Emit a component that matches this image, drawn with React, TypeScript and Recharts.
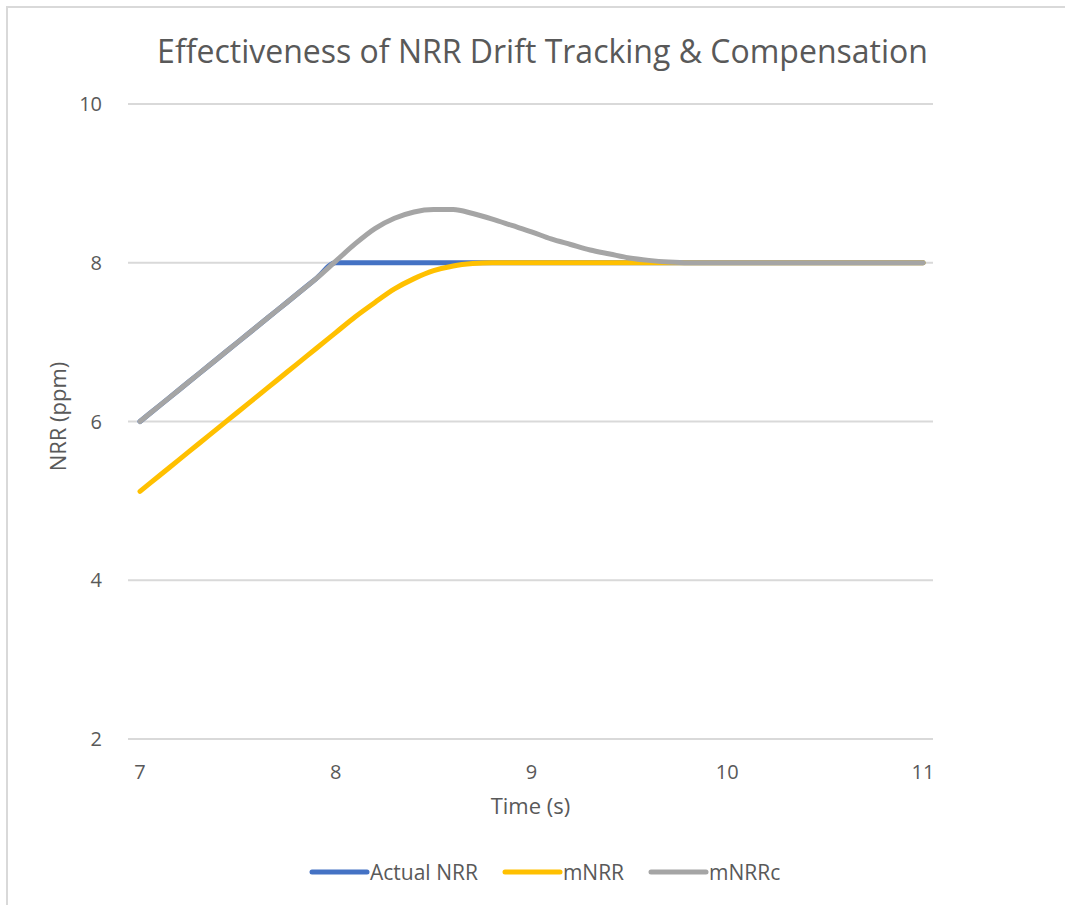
import { LineChart, Line, XAxis, YAxis, CartesianGrid, Legend } from "recharts"

const FONT = "'Open Sans', sans-serif"
const TEXT = "#595959"

// time in seconds, 0.1 s steps
const times = [
  7.0, 7.1, 7.2, 7.3, 7.4, 7.5, 7.6, 7.7, 7.8, 7.9,
  8.0, 8.1, 8.2, 8.3, 8.4, 8.5, 8.6, 8.7, 8.8, 8.9,
  9.0, 9.1, 9.2, 9.3, 9.4, 9.5, 9.6, 9.7, 9.8, 9.9,
  10.0, 10.1, 10.2, 10.3, 10.4, 10.5, 10.6, 10.7, 10.8, 10.9, 11.0,
]

const actualNrr = [
  6.0, 6.2, 6.4, 6.6, 6.8, 7.0, 7.2, 7.4, 7.6, 7.8,
  8.0, 8.0, 8.0, 8.0, 8.0, 8.0, 8.0, 8.0, 8.0, 8.0,
  8.0, 8.0, 8.0, 8.0, 8.0, 8.0, 8.0, 8.0, 8.0, 8.0,
  8.0, 8.0, 8.0, 8.0, 8.0, 8.0, 8.0, 8.0, 8.0, 8.0, 8.0,
]

const mNrr = [
  5.12, 5.32, 5.52, 5.72, 5.92, 6.12, 6.32, 6.52, 6.72, 6.92,
  7.12, 7.32, 7.5, 7.67, 7.8, 7.9, 7.96, 7.99, 8.0, 8.0,
  8.0, 8.0, 8.0, 8.0, 8.0, 8.0, 8.0, 8.0, 8.0, 8.0,
  8.0, 8.0, 8.0, 8.0, 8.0, 8.0, 8.0, 8.0, 8.0, 8.0, 8.0,
]

const mNrrc = [
  6.0, 6.2, 6.4, 6.6, 6.8, 7.0, 7.2, 7.4, 7.6, 7.8,
  8.02, 8.24, 8.43, 8.56, 8.64, 8.67, 8.67, 8.62, 8.55, 8.47,
  8.39, 8.3, 8.23, 8.16, 8.11, 8.06, 8.03, 8.01, 8.0, 8.0,
  8.0, 8.0, 8.0, 8.0, 8.0, 8.0, 8.0, 8.0, 8.0, 8.0, 8.0,
]

const xTicks = [7, 8, 9, 10, 11]
const yTicks = [2, 4, 6, 8, 10]

const series = [
  { key: "actual", name: "Actual NRR", color: "#4472C4", values: actualNrr },
  { key: "mNRR", name: "mNRR", color: "#FFC000", values: mNrr },
  { key: "mNRRc", name: "mNRRc", color: "#A5A5A5", values: mNrrc },
]

const data = times.map((t, i) => {
  const row: Record<string, number> = { t }
  series.forEach((s) => (row[s.key] = s.values[i]))
  return row
})

function LegendBox() {
  return (
    <div style={{ display: "flex", alignItems: "center", height: 40, paddingLeft: 309, fontFamily: FONT, fontSize: 21, color: TEXT }}>
      {series.map((s) => (
        <div key={s.key} style={{ display: "flex", alignItems: "center", marginRight: 24 }}>
          <svg width={61} height={10}>
            <line x1={3} y1={5} x2={58} y2={5} stroke={s.color} strokeWidth={5} strokeLinecap="round" />
          </svg>
          <span>{s.name}</span>
        </div>
      ))}
    </div>
  )
}

function YLabel(props: any) {
  const { viewBox } = props
  const x = viewBox.x - 11
  const y = viewBox.y + viewBox.height / 2 - 5
  return (
    <text x={x} y={y} transform={`rotate(-90 ${x} ${y})`} textAnchor="middle" dominantBaseline="central" fill={TEXT} fontFamily={FONT} fontSize={22}>
      NRR (ppm)
    </text>
  )
}

export default function App() {
  return (
    <div style={{ position: "absolute", left: 0, top: 0, width: 1065, height: 905, background: "#fff", overflow: "hidden" }}>
      <div style={{ position: "absolute", left: 6, top: 6, width: 1059, height: 899, borderTop: "2px solid #d9d9d9", borderLeft: "2px solid #d9d9d9" }} />
      <div style={{ position: "absolute", left: 10, width: 1065, top: 29, textAlign: "center", fontFamily: FONT, fontSize: 32, color: TEXT }}>
        Effectiveness of NRR Drift Tracking &amp; Compensation
      </div>
      <div style={{ position: "absolute", left: 0, top: 0 }}>
        <LineChart width={1065} height={905} data={data} margin={{ top: 104, right: 132, left: 68, bottom: 13 }}>
          <CartesianGrid horizontal vertical={false} stroke="#d9d9d9" strokeWidth={2} />
          <XAxis
            dataKey="t"
            type="number"
            domain={[7, 11]}
            ticks={xTicks}
            padding={{ left: 12, right: 10 }}
            axisLine={false}
            tickLine={false}
            tickMargin={20}
            height={113}
            tick={{ fill: TEXT, fontFamily: FONT, fontSize: 20 }}
            label={{ value: "Time (s)", position: "insideBottom", offset: 38, fill: TEXT, fontFamily: FONT, fontSize: 22 }}
          />
          <YAxis
            type="number"
            domain={[2, 10]}
            ticks={yTicks}
            axisLine={false}
            tickLine={false}
            tickMargin={20}
            width={60}
            tick={{ fill: TEXT, fontFamily: FONT, fontSize: 20 }}
            label={<YLabel />}
          />
          <Legend verticalAlign="bottom" height={40} wrapperStyle={{ left: 0, width: 1065 }} content={<LegendBox />} />
          {series.map((s) => (
            <Line
              key={s.key}
              type="monotone"
              dataKey={s.key}
              name={s.name}
              stroke={s.color}
              strokeWidth={5}
              strokeLinecap="round"
              dot={false}
              isAnimationActive={false}
            />
          ))}
        </LineChart>
      </div>
    </div>
  )
}
